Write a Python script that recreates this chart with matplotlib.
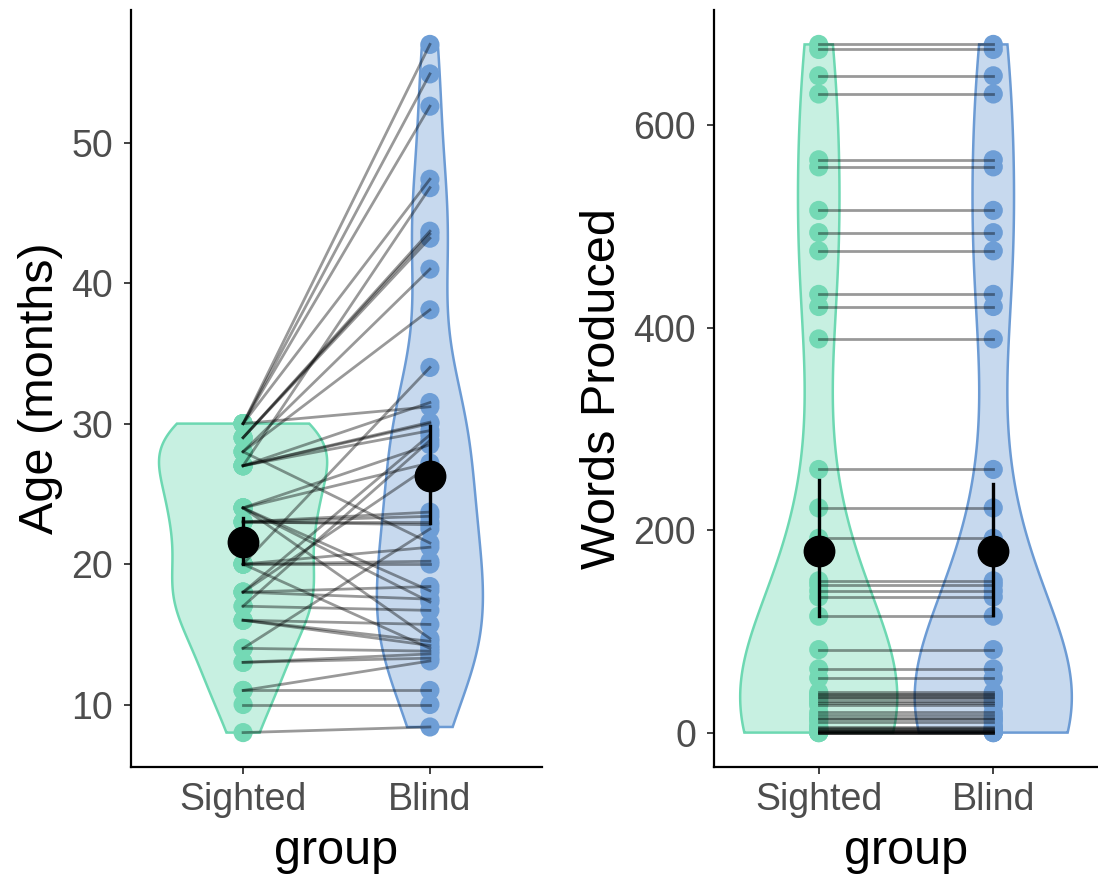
import numpy as np
import matplotlib
matplotlib.use('Agg')
import matplotlib.pyplot as plt
from matplotlib.colors import to_rgba

plt.rcParams['font.family'] = ['Liberation Sans', 'DejaVu Sans']

groups = ['Sighted', 'Blind']

# one row per matched pair: sighted age, blind age, words produced (same for both)
sighted_age = [30, 30, 30, 30, 30, 29, 29, 29, 28, 28, 28,
               27, 27, 27, 27, 27, 24, 24, 24, 24, 24, 23, 23, 23, 23,
               20, 20, 20, 20, 20, 18, 18, 18, 18, 17, 17, 16, 16, 16,
               14, 14, 13, 13, 11, 11, 10, 8]
blind_age = [57.0, 54.9, 52.6, 47.4, 31.2, 43.7, 43.5, 43.2, 41.0, 38.1, 21.5,
             31.5, 46.8, 30.1, 30.0, 29.5, 17.3, 14.7, 28.5, 27.2, 18.1, 23.7, 23.4, 23.0, 22.8,
             14.0, 34.0, 21.2, 20.2, 20.0, 18.4, 27.0, 17.5, 29.2, 28.8, 16.7, 15.7, 14.5, 14.2,
             22.5, 13.8, 13.6, 13.3, 13.1, 11.0, 10.0, 8.4]
words = [680, 675, 649, 631, 566, 559, 516, 494, 476, 433, 421,
         389, 260, 222, 192, 150, 146, 140, 134, 115, 82, 63, 54, 40, 38,
         37, 35, 34, 31, 29, 27, 20, 17, 14, 13, 10, 6, 5, 4,
         3, 2, 2, 1, 1, 0, 0, 0]

# group means with 95% intervals
age_mean = [21.6, 26.3]
age_lo = [20.0, 22.9]
age_hi = [23.3, 29.8]
words_mean = [179, 179]
words_lo = [115, 116]
words_hi = [250, 246]

edge_cols = ['#6DD8B2', '#6C9BD4']
point_cols = ['#74D9B5', '#6E9ED6']


def density(vals, n=512):
    vals = np.asarray(vals, float)
    sd = vals.std(ddof=1)
    q75, q25 = np.percentile(vals, [75, 25])
    bw = 0.9 * min(sd, (q75 - q25) / 1.34) * len(vals) ** -0.2
    grid = np.linspace(vals.min(), vals.max(), n)
    z = (grid[:, None] - vals[None, :]) / bw
    d = np.exp(-0.5 * z ** 2).sum(1) / (len(vals) * bw * np.sqrt(2 * np.pi))
    return grid, d


def panel(ax, left, right, mean, lo, hi, ylabel, yticks):
    data = [left, right]
    dens = [density(v) for v in data]
    dmax = max(d.max() for _, d in dens)
    for i, (grid, d) in enumerate(dens):
        x = i + 1
        w = 0.45 * d / dmax
        xs = np.concatenate([x - w, (x + w)[::-1]])
        ys = np.concatenate([grid, grid[::-1]])
        ax.fill(xs, ys, facecolor=to_rgba(edge_cols[i], 0.38),
                edgecolor=edge_cols[i], lw=1.8, zorder=1)
    for i, v in enumerate(data):
        ax.scatter(np.full(len(v), i + 1), v, s=190, color=point_cols[i],
                   edgecolor='none', zorder=2)
    for a, b in zip(left, right):
        ax.plot([1, 2], [a, b], color='black', alpha=0.4, lw=2.0, zorder=3)
    for i in range(2):
        ax.plot([i + 1, i + 1], [lo[i], hi[i]], color='black', lw=2.4, zorder=4)
        ax.scatter([i + 1], [mean[i]], s=480, color='black', zorder=5)

    allv = np.concatenate([left, right])
    span = allv.max() - allv.min()
    ax.set_ylim(allv.min() - 0.05 * span, allv.max() + 0.05 * span)
    ax.set_xlim(0.4, 2.6)
    ax.set_xticks([1, 2])
    ax.set_xticklabels(groups)
    ax.set_yticks(yticks)
    ax.set_xlabel('group', fontsize=35, labelpad=8)
    ax.set_ylabel(ylabel, fontsize=35, labelpad=6)
    for s in ['top', 'right']:
        ax.spines[s].set_visible(False)
    for s in ['left', 'bottom']:
        ax.spines[s].set_linewidth(1.6)
    ax.tick_params(labelsize=27, labelcolor='#4D4D4D', color='#333333',
                   length=5, width=1.3)
    ax.tick_params(axis='y', pad=8)
    ax.tick_params(axis='x', pad=6)


fig = plt.figure(figsize=(10.98, 8.76), dpi=100)
ax1 = fig.add_axes([131 / 1098, 109 / 876, 411 / 1098, 757 / 876])
ax2 = fig.add_axes([714 / 1098, 109 / 876, 384 / 1098, 757 / 876])

panel(ax1, sighted_age, blind_age, age_mean, age_lo, age_hi,
      'Age (months)', [10, 20, 30, 40, 50])
panel(ax2, words, words, words_mean, words_lo, words_hi,
      'Words Produced', [0, 200, 400, 600])

fig.savefig('out.png', dpi=100)
